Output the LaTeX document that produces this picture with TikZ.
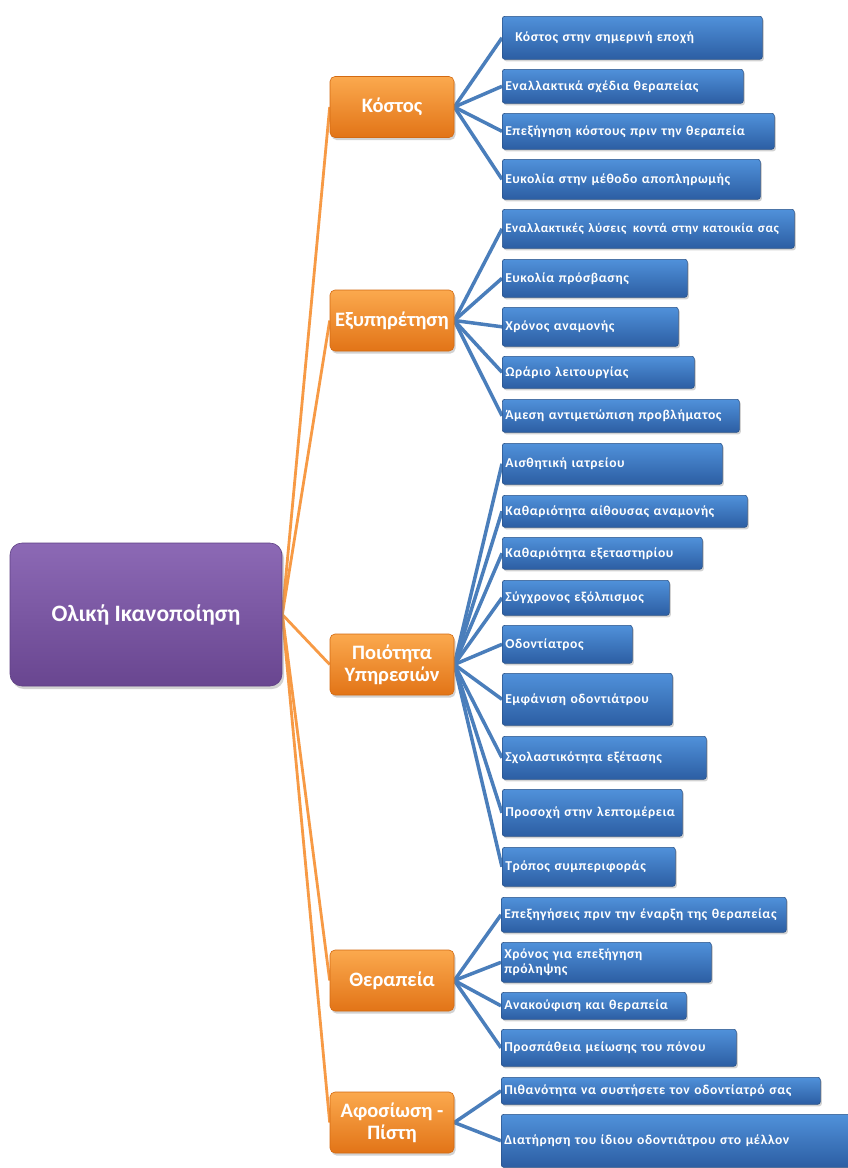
\documentclass[tikz,border=0pt]{standalone}
\usepackage{fontspec}
\setmainfont{Carlito}
\newfontfamily\leaffont[LetterSpace=4,WordSpace=0.6]{Carlito}
\usetikzlibrary{shadows,backgrounds}
\definecolor{leaftop}{HTML}{5091DA}
\definecolor{leafbot}{HTML}{2C5EA3}
\definecolor{leafedge}{HTML}{2A5288}
\definecolor{midtop}{HTML}{FBA94E}
\definecolor{midbot}{HTML}{E27417}
\definecolor{midedge}{HTML}{D36A12}
\definecolor{roottop}{HTML}{8C69B5}
\definecolor{rootbot}{HTML}{694690}
\definecolor{rootedge}{HTML}{5E4083}
\definecolor{orangeline}{HTML}{F79A45}
\definecolor{blueline}{HTML}{4A7EBB}
\tikzset{
  leafbox/.style={draw=leafedge, line width=0.6pt, rounded corners=2.5pt,
    top color=leaftop, bottom color=leafbot, text=white,
    font=\leaffont\bfseries\fontsize{13.6}{15.5}\selectfont,
    inner xsep=3pt, inner ysep=1pt, align=left,
    drop shadow={shadow xshift=1.5pt, shadow yshift=-2pt, opacity=0.35}},
  midbox/.style={draw=midedge, line width=0.6pt, rounded corners=5pt,
    top color=midtop, bottom color=midbot, text=white,
    font=\bfseries\fontsize{20.5}{22}\selectfont, align=center,
    minimum width=124pt, minimum height=61pt, inner sep=2pt,
    drop shadow={shadow xshift=1.5pt, shadow yshift=-2.5pt, opacity=0.35}},
  rootbox/.style={draw=rootedge, line width=0.6pt, rounded corners=12pt,
    top color=roottop, bottom color=rootbot, text=white,
    font=\bfseries\fontsize{23.5}{26}\selectfont, align=center,
    minimum width=272pt, minimum height=143pt,
    drop shadow={shadow xshift=2pt, shadow yshift=-3pt, opacity=0.35}},
  orline/.style={draw=orangeline, line width=2.8pt},
  blline/.style={draw=blueline, line width=3.5pt},
}
\newcommand\leafnode[6]{%
  \pgfmathsetmacro\leafw{#4-#2-6}%
  \pgfmathsetmacro\leafh{#5-#3}%
  \node[leafbox, text width=\leafw pt, minimum height=\leafh pt, anchor=north west] (#1) at (#2,#3) {#6};%
}
\begin{document}
\begin{tikzpicture}[x=1pt,y=-1pt]
\useasboundingbox (0,0) rectangle (848,1168);

\node[rootbox] (root) at (146,614.5) {Ολική Ικανοποίηση};

\node[midbox] (k) at (392,107) {Κόστος};
\node[midbox] (e) at (392,320.5) {Εξυπηρέτηση};
\node[midbox] (p) at (392,664.5) {Ποιότητα\\Υπηρεσιών};
\node[midbox] (t) at (392,980.5) {Θεραπεία};
\node[midbox] (a) at (392,1122.5) {Αφοσίωση -\\Πίστη};

\leafnode{c1}{502}{16}{762}{59}{\hspace*{10pt}Κόστος στην σημερινή εποχή}
\leafnode{c2}{502}{69}{743}{103}{Εναλλακτικά σχέδια θεραπείας}
\leafnode{c3}{502}{113}{774}{149}{Επεξήγηση κόστους πριν την θεραπεία}
\leafnode{c4}{502}{159}{760}{199}{Ευκολία στην μέθοδο αποπληρωμής}

\leafnode{e1}{502}{209}{794}{248}{\fontsize{13}{15}\selectfont\mbox{Εναλλακτικές λύσεις\, κοντά στην κατοικία σας}}
\leafnode{e2}{502}{259}{687}{297}{Ευκολία πρόσβασης}
\leafnode{e3}{502}{307}{678}{346}{Χρόνος αναμονής}
\leafnode{e4}{502}{356}{694}{388}{Ωράριο λειτουργίας}
\leafnode{e5}{502}{399}{739}{432}{Άμεση αντιμετώπιση προβλήματος}

\leafnode{p1}{502}{443}{722}{484}{Αισθητική ιατρείου}
\leafnode{p2}{502}{495}{747}{527}{Καθαριότητα αίθουσας αναμονής}
\leafnode{p3}{502}{537}{702}{569}{Καθαριότητα εξεταστηρίου}
\leafnode{p4}{502}{580}{669}{615}{Σύγχρονος εξόλπισμος}
\leafnode{p5}{502}{625}{632}{663}{Οδοντίατρος}
\leafnode{p6}{502}{673}{672}{725}{Εμφάνιση οδοντιάτρου}
\leafnode{p7}{502}{736}{706}{779}{Σχολαστικότητα εξέτασης}
\leafnode{p8}{502}{789}{682}{836}{Προσοχή στην λεπτομέρεια}
\leafnode{p9}{502}{847}{675}{886}{Τρόπος συμπεριφοράς}

\leafnode{t1}{501}{897}{786}{932}{Επεξηγήσεις πριν την έναρξη της θεραπείας}
\leafnode{t2}{501}{942}{711}{982}{Χρόνος για επεξήγηση\\πρόληψης}
\leafnode{t3}{501}{992}{686}{1019}{Ανακούφιση και θεραπεία}
\leafnode{t4}{501}{1029}{736}{1066}{Προσπάθεια μείωσης του πόνου}

\leafnode{a1}{501}{1077}{820}{1104}{Πιθανότητα να συστήσετε τον οδοντίατρό σας}
\leafnode{a2}{501}{1114}{854}{1167}{Διατήρηση του ίδιου οδοντιάτρου στο μέλλον}

\begin{scope}[on background layer]
  \fill[white] (0,0) rectangle (848,1168);
  \foreach \c in {k,e,p,t,a} \draw[orline] (root.east) -- (\c.west);
  \foreach \c in {c1,c2,c3,c4} \draw[blline] (k.east) -- (\c.west);
  \foreach \c in {e1,e2,e3,e4,e5} \draw[blline] (e.east) -- (\c.west);
  \foreach \c in {p1,p2,p3,p4,p5,p6,p7,p8,p9} \draw[blline] (p.east) -- (\c.west);
  \foreach \c in {t1,t2,t3,t4} \draw[blline] (t.east) -- (\c.west);
  \foreach \c in {a1,a2} \draw[blline] (a.east) -- (\c.west);
\end{scope}
\end{tikzpicture}
\end{document}
